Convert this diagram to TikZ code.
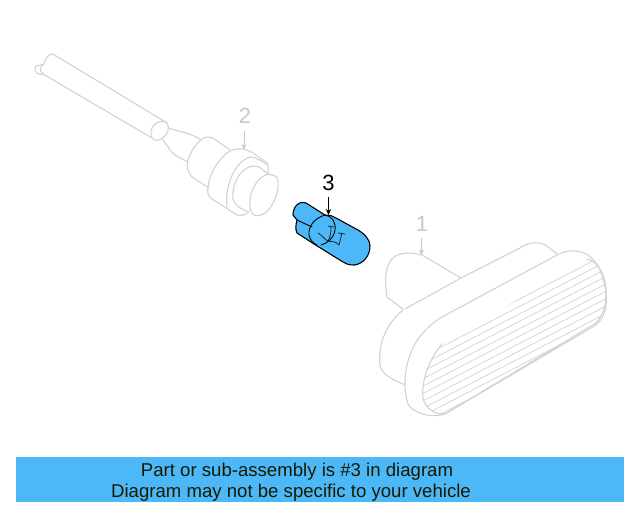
\documentclass[tikz,border=0pt]{standalone}
\usepackage{fontspec}
\setmainfont{Liberation Sans}
\usetikzlibrary{arrows.meta}
\definecolor{pale}{HTML}{D2D2D2}
\definecolor{paletext}{HTML}{C8C8C8}
\definecolor{bulbblue}{HTML}{4DB8F8}
\definecolor{bannertext}{HTML}{141A00}
\tikzset{
  ghost/.style={draw=pale,line width=1.1pt,line join=round,line cap=round},
  hatchline/.style={draw=pale,line width=0.7pt},
  bulbline/.style={draw=black,line width=1.1pt,line join=round,line cap=round},
  filament/.style={draw=black!80!bulbblue,line width=0.8pt,line join=round},
  calloutpale/.style={font=\fontsize{22}{22}\selectfont,text=paletext,inner sep=0pt},
  calloutdark/.style={font=\fontsize{22}{22}\selectfont,text=black,inner sep=0pt},
  bannerline/.style={font=\fontsize{18.6}{18.6}\selectfont,text=bannertext,inner sep=0pt,anchor=base},
  leadpale/.style={draw=paletext,line width=1pt,-{Stealth[length=5.5pt,width=5pt]}},
  leaddark/.style={draw=black,line width=1pt,-{Stealth[length=6pt,width=5.5pt]}}
}
\begin{document}
\begin{tikzpicture}[x=1pt,y=-1pt]
\useasboundingbox (0,0) rectangle (640,512);
\fill[white] (0,0) rectangle (640,512);

% cable
\draw[ghost] (43,74) .. controls (38,75) and (34,72) .. (35,68)
  .. controls (36,64) and (41,66) .. (44,64)
  .. controls (45,59) and (48,54) .. (53,54) -- (167,123);
\draw[ghost] (44,64) .. controls (40,66) and (39,71) .. (43,74) -- (152,138);
\draw[ghost] (167,123) .. controls (170,128) and (168,134) .. (163,138)
  .. controls (159,141) and (154,141) .. (152,138)
  .. controls (150,134) and (151,128) .. (154,125)
  .. controls (158,121) and (164,120) .. (167,123);
% neck
\draw[ghost] (168,128) .. controls (176,131) and (192,133) .. (201,140);
\draw[ghost] (163,140) .. controls (168,146) and (170,152) .. (175,155)
  .. controls (180,158) and (184,160) .. (188,162);
% body
\draw[ghost] (192,177) .. controls (188,172) and (186,167) .. (188,160)
  .. controls (191,151) and (196,144) .. (201,140)
  .. controls (205,136) and (211,136) .. (216,140) -- (230,150);
\draw[ghost] (192,177) -- (209,188);
% collar
\draw[ghost] (230,151) .. controls (236,148) and (246,148) .. (253,153)
  -- (266,162) .. controls (268,164) and (269,168) .. (268,173);
\draw[ghost] (230,151) .. controls (218,158) and (209,175) .. (208,187)
  .. controls (207,193) and (208,196) .. (212,199) -- (237,215)
  .. controls (240,216) and (244,215) .. (248,213);
\draw[ghost] (227,207) .. controls (226,198) and (227,190) .. (229,184)
  .. controls (232,172) and (240,160) .. (250,157)
  .. controls (256,157) and (262,161) .. (267,165);
\draw[ghost] (233,199) .. controls (232,190) and (235,178) .. (243,171)
  .. controls (248,166) and (254,165) .. (259,167) -- (270,175);
\draw[ghost] (233,199) .. controls (234,204) and (240,209) .. (249,212);
% nose
\draw[ghost,fill=white] (250,205) .. controls (249,195) and (254,183) .. (262,177)
  .. controls (267,173) and (272,174) .. (277,177)
  .. controls (280,184) and (277,198) .. (270,208)
  .. controls (265,215) and (258,217) .. (254,215)
  .. controls (251,213) and (250,209) .. (250,205);

% label 2
\node[calloutpale] (two) at (245,116) {2};
\coordinate (twotip) at (244,149.5);
\draw[leadpale] (244,131) -- (twotip);

% lamp socket and housing
\draw[ghost] (403,310) .. controls (385,325) and (378,345) .. (380,365)
  .. controls (381,374) and (393,380) .. (405,385);
\draw[ghost] (405,309) -- (461,278) -- (520,248)
  .. controls (528,242) and (540,241) .. (547,246) -- (557,254);
\draw[ghost] (461,278) -- (422,255) .. controls (410,252) and (398,252) .. (392,259)
  .. controls (386,266) and (384,277) .. (387,297) -- (403,309);
% rim
\draw[ghost,fill=white] (442,317) -- (557,255) .. controls (570,248) and (590,248) .. (600,270)
  .. controls (610,295) and (608,315) .. (596,325)
  -- (445,414) .. controls (430,419) and (412,412) .. (408,404)
  .. controls (403,390) and (404,368) .. (412,350)
  .. controls (418,336) and (431,323) .. (442,317) -- cycle;
% lens
\begin{scope}
\clip (587,259) .. controls (600,262) and (606,278) .. (606,292)
  .. controls (606,305) and (603,316) .. (596,323) -- (445,414)
  .. controls (435,415) and (425,408) .. (423,398)
  .. controls (421,380) and (430,358) .. (442,344) -- cycle;
\foreach \o in {0,...,18} {
  \draw[hatchline] (400,{361+\o*7.4}) -- (620,{247+\o*7.4});
}
\end{scope}
\draw[ghost] (587,259) .. controls (600,262) and (606,278) .. (606,292)
  .. controls (606,305) and (603,316) .. (596,323) -- (445,414)
  .. controls (435,415) and (425,408) .. (423,398)
  .. controls (421,380) and (430,358) .. (442,344);

% label 1
\node[calloutpale] (one) at (422,224) {1};
\coordinate (onetip) at (421.5,255);
\draw[leadpale] (421.5,238) -- (onetip);

% bulb
\path[bulbline,fill=bulbblue] (293,215) .. controls (293,210) and (295,206) .. (298,204)
  .. controls (301,202) and (304,202) .. (306,203) -- (325,215)
  .. controls (330,215) and (333,216) .. (336,218) -- (358,230)
  .. controls (365,234) and (370,240) .. (370,246)
  .. controls (370,255) and (364,264) .. (354,265)
  .. controls (349,265) and (346,264) .. (343,262) -- (314,244)
  -- (297,233) .. controls (295,229) and (296,224) .. (297,220) -- cycle;
\draw[bulbline,line width=0.9pt] (297,220) -- (312,227);
\draw[bulbline,line width=0.9pt] (325,215) .. controls (315,218) and (308,226) .. (309,235)
  .. controls (310,240) and (313,243) .. (317,245);
\draw[bulbline,line width=0.9pt] (325,215) .. controls (332,216) and (336,222) .. (335,230)
  .. controls (334,238) and (328,243) .. (321,245);
\draw[filament] (318,233) .. controls (323,236) and (325,240) .. (328,241)
  .. controls (332,242) and (336,241) .. (339,245) -- (342,233);
\draw[filament] (338,233) -- (345,234);
\draw[filament] (328,226) -- (334,227);
\draw[filament] (331,226) .. controls (331,232) and (331,236) .. (328,241);

% label 3
\node[calloutdark] (three) at (328.5,183) {3};
\coordinate (threetip) at (328.5,215);
\draw[leaddark] (328.5,197) -- (threetip);

% banner
\fill[bulbblue] (16,457) rectangle (624,502);
\node[bannerline] (lineone) at (297,476.5) {Part or sub-assembly is \#3 in diagram};
\node[bannerline] (linetwo) at (291,497) {Diagram may not be specific to your vehicle};
\end{tikzpicture}
\end{document}
